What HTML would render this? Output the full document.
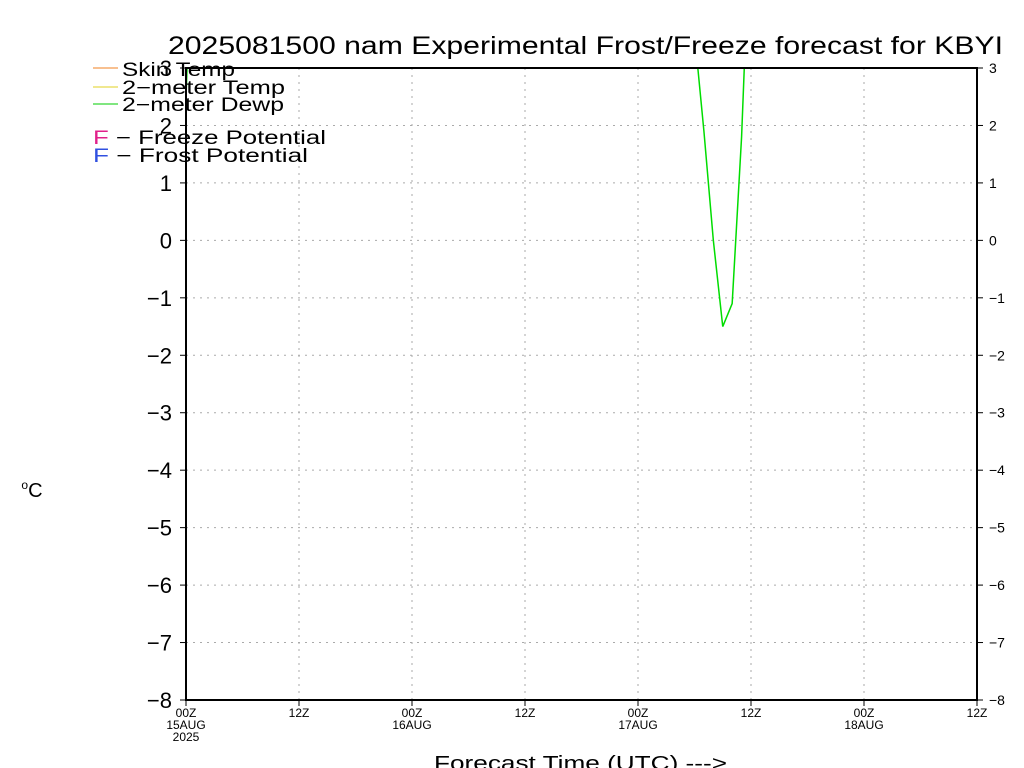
<!DOCTYPE html>
<html><head><meta charset="utf-8"><style>
body{margin:0;background:#fff;}
svg{display:block;font-family:"Liberation Sans",sans-serif;}
</style></head><body>
<svg id="chart" width="1024" height="768">
<text x="168" y="54" font-size="25" textLength="835" lengthAdjust="spacingAndGlyphs">2025081500 nam Experimental Frost/Freeze forecast for KBYI</text>
<g id="grid"></g>
<g id="axes"></g>
<defs><clipPath id="plotclip"><rect x="186" y="68" width="791" height="632"/></clipPath></defs>
<g id="series" clip-path="url(#plotclip)"></g>
<rect x="186" y="68" width="791" height="632" fill="none" stroke="#000" stroke-width="2"/>
<g font-size="19">
<line x1="93" y1="68" x2="118" y2="68" stroke="#f08020"/>
<text x="122" y="76" textLength="113" lengthAdjust="spacingAndGlyphs">Skin Temp</text>
<line x1="93" y1="87" x2="118" y2="87" stroke="#e0d020"/>
<text x="122" y="94" textLength="163" lengthAdjust="spacingAndGlyphs">2−meter Temp</text>
<line x1="93" y1="104" x2="118" y2="104" stroke="#00cc00"/>
<text x="122" y="111" textLength="162" lengthAdjust="spacingAndGlyphs">2−meter Dewp</text>
<text x="93" y="144" textLength="233" lengthAdjust="spacingAndGlyphs"><tspan fill="#e0208a">F</tspan> − Freeze Potential</text>
<text x="93" y="162" textLength="215" lengthAdjust="spacingAndGlyphs"><tspan fill="#3050e0">F</tspan> − Frost Potential</text>
</g>
<text x="32" y="497" text-anchor="middle" font-size="20"><tspan font-size="12" dy="-8">o</tspan><tspan dy="8">C</tspan></text>
<text x="434" y="770" font-size="20" textLength="293" lengthAdjust="spacingAndGlyphs">Forecast Time (UTC) ---&gt;</text>
</svg>
<script>
const yTicks=[3,2,1,0,-1,-2,-3,-4,-5,-6,-7,-8];
const xTickHours=[0,12,24,36,48,60,72,84];
const xTickLabels=[["00Z","15AUG","2025"],["12Z"],["00Z","16AUG"],["12Z"],["00Z","17AUG"],["12Z"],["00Z","18AUG"],["12Z"]];
const dewHours=[0,1,6,12,24,36,48,52,53,54,55,56,57,58,59,60,66,72,84];
const dewValues=[2.5,7,9,10,9,10,12,7,5.3,3.6,1.9,0,-1.5,-1.1,1.8,6,12,10,11];
const X0=186,X1=977,Y0=68,Y1=700,HMAX=84,VMAX=3,VMIN=-8;
const NS="http://www.w3.org/2000/svg";
function xs(h){return X0+(h/HMAX)*(X1-X0);}
function ys(v){return Y0+(VMAX-v)/(VMAX-VMIN)*(Y1-Y0);}
function mk(t,a,p){const e=document.createElementNS(NS,t);for(const k in a)e.setAttribute(k,a[k]);p.appendChild(e);return e;}
const grid=document.getElementById('grid'),axes=document.getElementById('axes'),series=document.getElementById('series');
yTicks.forEach(v=>{
 const y=ys(v);
 const g=mk('line',{x1:X0,x2:X1,y1:y,y2:y,stroke:'#aaa','stroke-dasharray':'2,5'},grid);
 
 
 mk('line',{x1:X0-6,x2:X0,y1:y,y2:y,stroke:'#000'},axes);
 mk('line',{x1:X1,x2:X1+6,y1:y,y2:y,stroke:'#000'},axes);
 const l=mk('text',{x:X0-14,y:y+8,'text-anchor':'end','font-size':'22'},axes);
 l.textContent=String(v).replace('-','−');
 
 
 const r=mk('text',{x:X1+12,y:y+5,'font-size':'14'},axes);
 r.textContent=String(v).replace('-','−');
 
 
});
xTickHours.forEach((h,i)=>{
 const x=xs(h);
 const g=mk('line',{x1:x,x2:x,y1:Y0,y2:Y1,stroke:'#aaa','stroke-dasharray':'2,5'},grid);
 
 
 mk('line',{x1:x,x2:x,y1:Y1,y2:Y1+6,stroke:'#000'},axes);
 xTickLabels[i].forEach((s,j)=>{
  const t=mk('text',{x:x,y:Y1+17+j*12,'text-anchor':'middle','font-size':'12'},axes);
  t.textContent=s;
  
  
 });
});
const pts=dewHours.map((h,i)=>xs(h)+','+ys(dewValues[i])).join(' ');
const pl=mk('polyline',{points:pts,fill:'none',stroke:'#00dd00','stroke-width':'1.5'},series);


</script>
</body></html>
